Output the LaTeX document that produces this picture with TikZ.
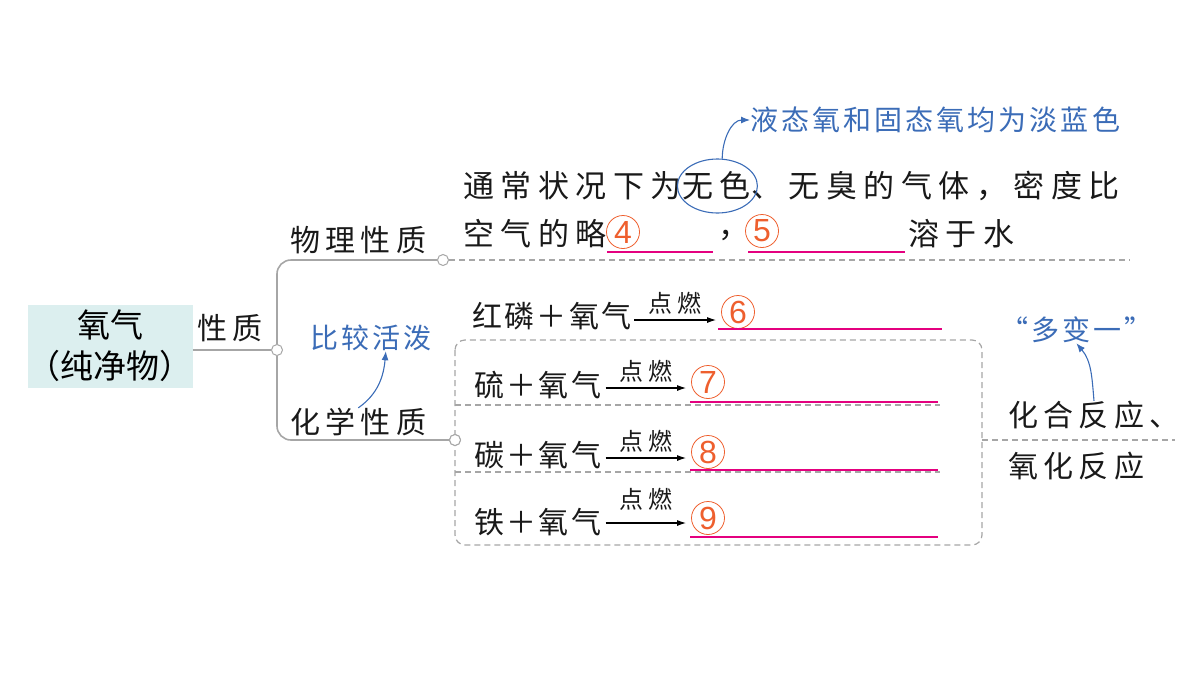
\documentclass[tikz,border=0pt]{standalone}
\usepackage{fontspec}
\usetikzlibrary{positioning, calc, shapes.geometric, arrows.meta}
\newfontfamily\cjk{Noto Sans CJK SC}
\newfontfamily\numfont{Liberation Sans}
\newcommand\cjkfont[2]{\cjk\fontsize{#1}{#1}\selectfont\addfontfeature{LetterSpace=#2}}
\definecolor{noteblue}{HTML}{3B6CB7}
\definecolor{numred}{HTML}{EE5F2E}
\definecolor{linered}{HTML}{E4007F}
\definecolor{branchgray}{HTML}{A6A6A6}
\definecolor{titlebg}{HTML}{DCEFEF}
\tikzstyle{React} = [
%reaction arrow
line width=1.1pt,
-{Latex[length=9pt,width=6pt]}
]
\tikzstyle{Note} = [
%blue comment arrow
draw=noteblue, line width=1.1pt,
-{Latex[length=9pt,width=7pt]}
]

\begin{document}
\begin{tikzpicture}[x=1pt, y=-1pt,
			word/.style = {inner sep=0pt, anchor=west, text=black!90, font=\cjkfont{30}{18}},
			line/.style = {inner sep=0pt, anchor=west, text=black!90, font=\cjkfont{31}{21}},
			eq/.style = {inner sep=0pt, anchor=west, text=black!90, font=\cjkfont{30}{8}},
			note/.style = {inner sep=0pt, anchor=west, text=noteblue, font=\cjkfont{28}{11}},
			fire/.style = {inner sep=0pt, above=5pt, text=black!90, font=\cjkfont{24}{22}},
			title/.style = {fill=titlebg, minimum width=164pt, minimum height=83pt, align=center, inner sep=0pt, font=\cjk\fontsize{33}{41}\selectfont},
			numb/.style = {circle, draw=numred, text=numred, line width=0.8pt, minimum size=33pt, inner sep=0pt, font=\numfont\fontsize{32}{32}\selectfont},
			dot/.style = {circle, draw=branchgray, fill=white, line width=1pt, minimum size=11pt, inner sep=0pt},
			branch/.style = {draw=branchgray, line width=1.6pt},
			guide/.style = {draw=branchgray, line width=1.2pt, dash pattern=on 6pt off 4pt},
			blank/.style = {draw=linered, line width=1.6pt},
		]
		\useasboundingbox (0,0) rectangle (1200,675);

		% main node and tree
		\node[title](oxygen) at (110,346){氧气\\（纯净物）};
		\node[word](prop) at (197,328){性质};
		\node[dot](hub) at (277,350){};
		\node[dot](phys) at (443,260){};
		\node[dot](chem) at (455,440){};
		\node[word](physname) at (290,240){物理性质};
		\node[word](chemname) at (290,422){化学性质};

		\draw[branch](oxygen.east |- hub)--(hub);
		\draw[branch, rounded corners=14pt](phys.west)-|(hub.north);
		\draw[branch, rounded corners=14pt](chem.west)-|(hub.south);
		\coordinate(physend) at (1130,260);
		\draw[guide](phys.east)--(physend);

		% physical properties
		\node[line](desc1) at (463,186){通常状况下为};
		\node[line](colour) at (desc1.east){无色};
		\node[line](desc2) at (colour.east){、无臭的气体，密度比};
		\node[ellipse, draw=noteblue, line width=1.1pt, minimum width=80pt, minimum height=54pt](ring) at ([xshift=1pt]colour.center){};
		\node[note](blue) at (750,120){液态氧和固态氧均为淡蓝色};
		\draw[Note](ring.80) to[out=90, in=180](blue.west);

		\node[line](desc3) at (463,234){空气的略};
		\node[numb](n4) at (623,232){4};
		\node[line](comma) at (718,236){，};
		\node[numb](n5) at (762,231){5};
		\node[line](desc4) at (908,234){溶于水};
		\coordinate(b4a) at (607,252);
		\coordinate(b4b) at (713,252);
		\coordinate(b5a) at (748,252);
		\coordinate(b5b) at (905,252);
		\draw[blank](b4a)--(b4b);
		\draw[blank](b5a)--(b5b);

		% chemical properties
		\node[note](lively) at (310,338){比较活泼};
		\draw[Note](chemname.north) to[out=35, in=-95]([xshift=15pt]lively.south);

		\node[eq](p1) at (472,316){红磷＋氧气};
		\node[numb](n6) at (738,312){6};
		\draw[React]([xshift=2pt, yshift=-4pt]p1.east)--node[fire]{点燃}([xshift=-5pt, yshift=-8pt]n6.west);

		\node[eq](p2) at (474,385){硫＋氧气};
		\node[numb](n7) at (708,382){7};
		\draw[React]([xshift=4pt, yshift=-3pt]p2.east)--node[fire]{点燃}([xshift=-5pt, yshift=-6pt]n7.west);

		\node[eq](p3) at (474,455){碳＋氧气};
		\node[numb](n8) at (708,452){8};
		\draw[React]([xshift=4pt, yshift=-3pt]p3.east)--node[fire]{点燃}([xshift=-5pt, yshift=-6pt]n8.west);

		\node[eq](p4) at (474,522){铁＋氧气};
		\node[numb](n9) at (708,518){9};
		\draw[React]([xshift=4pt, yshift=-1pt]p4.east)--node[fire, above=12pt]{点燃}([xshift=-5pt, yshift=-5pt]n9.west);

		\coordinate(b6a) at (718,329);
		\coordinate(b6b) at (942,329);
		\coordinate(b7a) at (690,402);
		\coordinate(b7b) at (938,402);
		\coordinate(b8a) at (690,470);
		\coordinate(b8b) at (938,470);
		\coordinate(b9a) at (690,537);
		\coordinate(b9b) at (938,537);
		\draw[blank](b6a)--(b6b);
		\draw[blank](b7a)--(b7b);
		\draw[blank](b8a)--(b8b);
		\draw[blank](b9a)--(b9b);

		% group box of the three reactions
		\coordinate(boxnw) at (455,340);
		\coordinate(boxse) at (982,545);
		\coordinate(boxeast) at (982,440);
		\draw[guide, rounded corners=10pt](boxnw) rectangle (boxse);
		\draw[guide](455,405)--(940,405);
		\draw[guide](455,472)--(940,472);
		\draw[fill=white, draw=branchgray, line width=1pt](chem) circle (5.5pt);

		% reaction type
		\coordinate(rightend) at (1175,440);
		\draw[guide](boxeast)--(rightend);
		\node[word](combine) at (1008,415){化合反应、};
		\node[word](oxid) at (1008,466){氧化反应};
		\node[note](many) at (1000,330){“多变一”};
		\draw[Note](combine.north) to[out=95, in=-50](many.south);

	\end{tikzpicture}
\end{document}
